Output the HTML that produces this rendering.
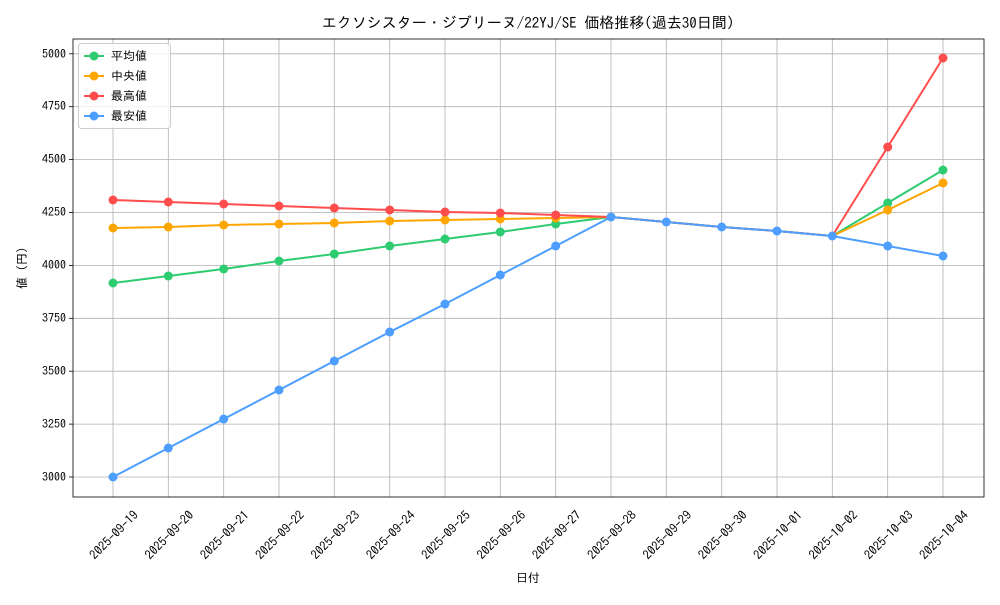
<!DOCTYPE html>
<html><head><meta charset="utf-8"><style>
body{margin:0;background:#fff}
svg text{font-family:"IPAGothic","Noto Sans CJK JP",sans-serif;fill:#000}
</style></head><body>
<svg width="1000" height="600" xmlns="http://www.w3.org/2000/svg">
<rect width="1000" height="600" fill="#fff"/>
<g stroke="#b0b0b0" stroke-width="0.8">
<line x1="113" y1="39" x2="113" y2="497"/><line x1="168.3" y1="39" x2="168.3" y2="497"/><line x1="223.7" y1="39" x2="223.7" y2="497"/><line x1="279" y1="39" x2="279" y2="497"/><line x1="334.3" y1="39" x2="334.3" y2="497"/><line x1="389.7" y1="39" x2="389.7" y2="497"/><line x1="445" y1="39" x2="445" y2="497"/><line x1="500.3" y1="39" x2="500.3" y2="497"/><line x1="555.7" y1="39" x2="555.7" y2="497"/><line x1="611" y1="39" x2="611" y2="497"/><line x1="666.3" y1="39" x2="666.3" y2="497"/><line x1="721.7" y1="39" x2="721.7" y2="497"/><line x1="777" y1="39" x2="777" y2="497"/><line x1="832.3" y1="39" x2="832.3" y2="497"/><line x1="887.7" y1="39" x2="887.7" y2="497"/><line x1="943" y1="39" x2="943" y2="497"/>
<line x1="73" y1="477" x2="984" y2="477"/><line x1="73" y1="424.1" x2="984" y2="424.1"/><line x1="73" y1="371.2" x2="984" y2="371.2"/><line x1="73" y1="318.3" x2="984" y2="318.3"/><line x1="73" y1="265.4" x2="984" y2="265.4"/><line x1="73" y1="212.5" x2="984" y2="212.5"/><line x1="73" y1="159.6" x2="984" y2="159.6"/><line x1="73" y1="106.7" x2="984" y2="106.7"/><line x1="73" y1="53.8" x2="984" y2="53.8"/>
</g>
<rect x="73" y="39" width="911" height="458" fill="none" stroke="#000" stroke-width="0.8"/>
<g stroke="#000" stroke-width="0.8">
<line x1="69" y1="477" x2="73" y2="477"/><line x1="69" y1="424.1" x2="73" y2="424.1"/><line x1="69" y1="371.2" x2="73" y2="371.2"/><line x1="69" y1="318.3" x2="73" y2="318.3"/><line x1="69" y1="265.4" x2="73" y2="265.4"/><line x1="69" y1="212.5" x2="73" y2="212.5"/><line x1="69" y1="159.6" x2="73" y2="159.6"/><line x1="69" y1="106.7" x2="73" y2="106.7"/><line x1="69" y1="53.8" x2="73" y2="53.8"/>
</g>
<g font-size="12" text-anchor="end">
<text x="66" y="481">3000</text><text x="66" y="428">3250</text><text x="66" y="375">3500</text><text x="66" y="322">3750</text><text x="66" y="269">4000</text><text x="66" y="216">4250</text><text x="66" y="163">4500</text><text x="66" y="110">4750</text><text x="66" y="58">5000</text>
</g>
<g font-size="12.5" text-anchor="middle">
<text transform="translate(117,538) rotate(-45)">2025-09-19</text>
<text transform="translate(172.3,538) rotate(-45)">2025-09-20</text>
<text transform="translate(227.7,538) rotate(-45)">2025-09-21</text>
<text transform="translate(283,538) rotate(-45)">2025-09-22</text>
<text transform="translate(338.3,538) rotate(-45)">2025-09-23</text>
<text transform="translate(393.7,538) rotate(-45)">2025-09-24</text>
<text transform="translate(449,538) rotate(-45)">2025-09-25</text>
<text transform="translate(504.3,538) rotate(-45)">2025-09-26</text>
<text transform="translate(559.7,538) rotate(-45)">2025-09-27</text>
<text transform="translate(615,538) rotate(-45)">2025-09-28</text>
<text transform="translate(670.3,538) rotate(-45)">2025-09-29</text>
<text transform="translate(725.7,538) rotate(-45)">2025-09-30</text>
<text transform="translate(781,538) rotate(-45)">2025-10-01</text>
<text transform="translate(836.3,538) rotate(-45)">2025-10-02</text>
<text transform="translate(891.7,538) rotate(-45)">2025-10-03</text>
<text transform="translate(947,538) rotate(-45)">2025-10-04</text>
</g>
<text x="528" y="582" font-size="12" text-anchor="middle">日付</text>
<text transform="translate(26,268) rotate(-90)" font-size="12" text-anchor="middle">値 (円)</text>
<text x="528" y="28" font-size="15" text-anchor="middle">エクソシスター・ジブリーヌ/22YJ/SE 価格推移(過去30日間)</text>
<g fill="none" stroke-width="2">
<polyline stroke="#2ecc71" points="113,283 168.3,276 223.7,269 279,261 334.3,254 389.7,246 445,239 500.3,232 555.7,224 611,217 666.3,222 721.7,227 777,231 832.3,236 887.7,203 943,170"/>
<polyline stroke="#ffa500" points="113,228 168.3,227 223.7,225 279,224 334.3,223 389.7,221 445,220 500.3,219 555.7,218 611,217 666.3,222 721.7,227 777,231 832.3,236 887.7,210 943,183"/>
<polyline stroke="#ff4d4d" points="113,200 168.3,202 223.7,204 279,206 334.3,208 389.7,210 445,212 500.3,213 555.7,215 611,217 666.3,222 721.7,227 777,231 832.3,236 887.7,147 943,58"/>
<polyline stroke="#4d9eff" points="113,477 168.3,448 223.7,419 279,390 334.3,361 389.7,332 445,304 500.3,275 555.7,246 611,217 666.3,222 721.7,227 777,231 832.3,236 887.7,246 943,256"/>
</g>
<g fill="#2ecc71"><circle cx="113" cy="283" r="4.5"/><circle cx="168.3" cy="276" r="4.5"/><circle cx="223.7" cy="269" r="4.5"/><circle cx="279" cy="261" r="4.5"/><circle cx="334.3" cy="254" r="4.5"/><circle cx="389.7" cy="246" r="4.5"/><circle cx="445" cy="239" r="4.5"/><circle cx="500.3" cy="232" r="4.5"/><circle cx="555.7" cy="224" r="4.5"/><circle cx="887.7" cy="203" r="4.5"/><circle cx="943" cy="170" r="4.5"/></g>
<g fill="#ffa500"><circle cx="113" cy="228" r="4.5"/><circle cx="168.3" cy="227" r="4.5"/><circle cx="223.7" cy="225" r="4.5"/><circle cx="279" cy="224" r="4.5"/><circle cx="334.3" cy="223" r="4.5"/><circle cx="389.7" cy="221" r="4.5"/><circle cx="445" cy="220" r="4.5"/><circle cx="500.3" cy="219" r="4.5"/><circle cx="555.7" cy="218" r="4.5"/><circle cx="887.7" cy="210" r="4.5"/><circle cx="943" cy="183" r="4.5"/></g>
<g fill="#ff4d4d"><circle cx="113" cy="200" r="4.5"/><circle cx="168.3" cy="202" r="4.5"/><circle cx="223.7" cy="204" r="4.5"/><circle cx="279" cy="206" r="4.5"/><circle cx="334.3" cy="208" r="4.5"/><circle cx="389.7" cy="210" r="4.5"/><circle cx="445" cy="212" r="4.5"/><circle cx="500.3" cy="213" r="4.5"/><circle cx="555.7" cy="215" r="4.5"/><circle cx="887.7" cy="147" r="4.5"/><circle cx="943" cy="58" r="4.5"/></g>
<g fill="#4d9eff"><circle cx="113" cy="477" r="4.5"/><circle cx="168.3" cy="448" r="4.5"/><circle cx="223.7" cy="419" r="4.5"/><circle cx="279" cy="390" r="4.5"/><circle cx="334.3" cy="361" r="4.5"/><circle cx="389.7" cy="332" r="4.5"/><circle cx="445" cy="304" r="4.5"/><circle cx="500.3" cy="275" r="4.5"/><circle cx="555.7" cy="246" r="4.5"/><circle cx="611" cy="217" r="4.5"/><circle cx="666.3" cy="222" r="4.5"/><circle cx="721.7" cy="227" r="4.5"/><circle cx="777" cy="231" r="4.5"/><circle cx="832.3" cy="236" r="4.5"/><circle cx="887.7" cy="246" r="4.5"/><circle cx="943" cy="256" r="4.5"/></g>
<rect x="78.5" y="43.5" width="92" height="85" rx="3" fill="#fff" fill-opacity="0.8" stroke="#ccc"/>
<g stroke-width="2">
<line x1="84" y1="56" x2="104" y2="56" stroke="#2ecc71"/><circle cx="94" cy="56" r="4.5" fill="#2ecc71"/>
<line x1="84" y1="76" x2="104" y2="76" stroke="#ffa500"/><circle cx="94" cy="76" r="4.5" fill="#ffa500"/>
<line x1="84" y1="96" x2="104" y2="96" stroke="#ff4d4d"/><circle cx="94" cy="96" r="4.5" fill="#ff4d4d"/>
<line x1="84" y1="116" x2="104" y2="116" stroke="#4d9eff"/><circle cx="94" cy="116" r="4.5" fill="#4d9eff"/>
</g>
<g font-size="12"><text x="111" y="60">平均値</text><text x="111" y="80">中央値</text><text x="111" y="100">最高値</text><text x="111" y="120">最安値</text></g>
</svg>
</body></html>
